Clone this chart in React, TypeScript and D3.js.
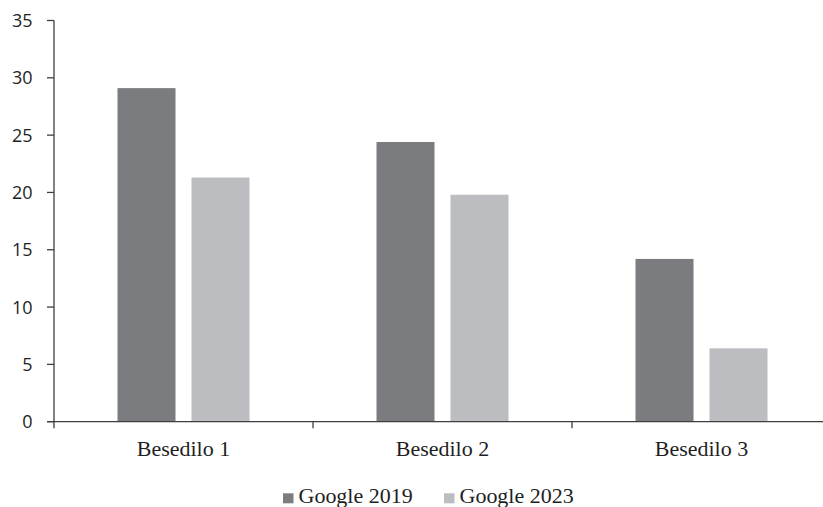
import React from "react";
import * as d3 from "d3";

const categories = ["Besedilo 1", "Besedilo 2", "Besedilo 3"];
const seriesNames = ["Google 2019", "Google 2023"];
const google2019 = [29.1, 24.4, 14.2];
const google2023 = [21.3, 19.8, 6.4];
const yTicks = [0, 5, 10, 15, 20, 25, 30, 35];
const seriesColors = ["#7b7c80", "#bcbdc0"];

const W = 823;
const H = 507;

export default function App() {
  const y = d3.scaleLinear().domain([0, 35]).range([421.7, 20.5]);
  const x = d3.scaleBand<string>().domain(categories).range([54, 831]).paddingInner(0).paddingOuter(0);
  const inner = d3
    .scaleBand<string>()
    .domain(seriesNames)
    .range([0, x.bandwidth()])
    .paddingInner(0.216)
    .paddingOuter(0.858);
  const values = [google2019, google2023];
  const axisColor = "#3f3f3f";
  const textColor = "#1f1f1f";
  const xStops = [...categories.map((c) => x(c)!), 831];

  return (
    <svg
      width={W}
      height={H}
      style={{ position: "absolute", left: 0, top: 0, background: "#fff" }}
    >
      {/* bars */}
      {categories.map((c, ci) =>
        seriesNames.map((s, si) => (
          <rect
            key={c + s}
            x={x(c)! + inner(s)!}
            y={y(values[si][ci])}
            width={inner.bandwidth()}
            height={y(0) - y(values[si][ci])}
            fill={seriesColors[si]}
          />
        ))
      )}

      {/* y axis */}
      <line x1={54} x2={54} y1={y(35)} y2={y(0) + 6.5} stroke={axisColor} strokeWidth={1.3} />
      {yTicks.map((t) => (
        <g key={t}>
          <line x1={47} x2={54} y1={y(t)} y2={y(t)} stroke={axisColor} strokeWidth={1.3} />
          <text
            x={32.5}
            y={y(t)}
            dy="0.36em"
            textAnchor="end"
            fontFamily="'Open Sans', sans-serif"
            fontSize={18}
            fill={textColor}
          >
            {t}
          </text>
        </g>
      ))}

      {/* x axis */}
      <line x1={47} x2={831} y1={y(0)} y2={y(0)} stroke={axisColor} strokeWidth={1.3} />
      {xStops.slice(1).map((px, i) => (
        <line key={i} x1={px} x2={px} y1={y(0)} y2={y(0) + 6.5} stroke={axisColor} strokeWidth={1.3} />
      ))}
      {categories.map((c) => (
        <text
          key={c}
          transform={`translate(${x(c)! + x.bandwidth() / 2},456) scale(1.1,1)`}
          textAnchor="middle"
          fontFamily="'Liberation Serif', serif"
          fontSize={20}
          fill={textColor}
        >
          {c}
        </text>
      ))}

      {/* legend */}
      {seriesNames.map((s, i) => {
        const lx = [283, 444][i];
        return (
          <g key={s}>
            <rect x={lx} y={493.3} width={10.5} height={10} fill={seriesColors[i]} />
            <text
              transform={`translate(${lx + 15.5},503) scale(1.1,1)`}
              fontFamily="'Liberation Serif', serif"
              fontSize={20}
              fill={textColor}
            >
              {s}
            </text>
          </g>
        );
      })}
    </svg>
  );
}
